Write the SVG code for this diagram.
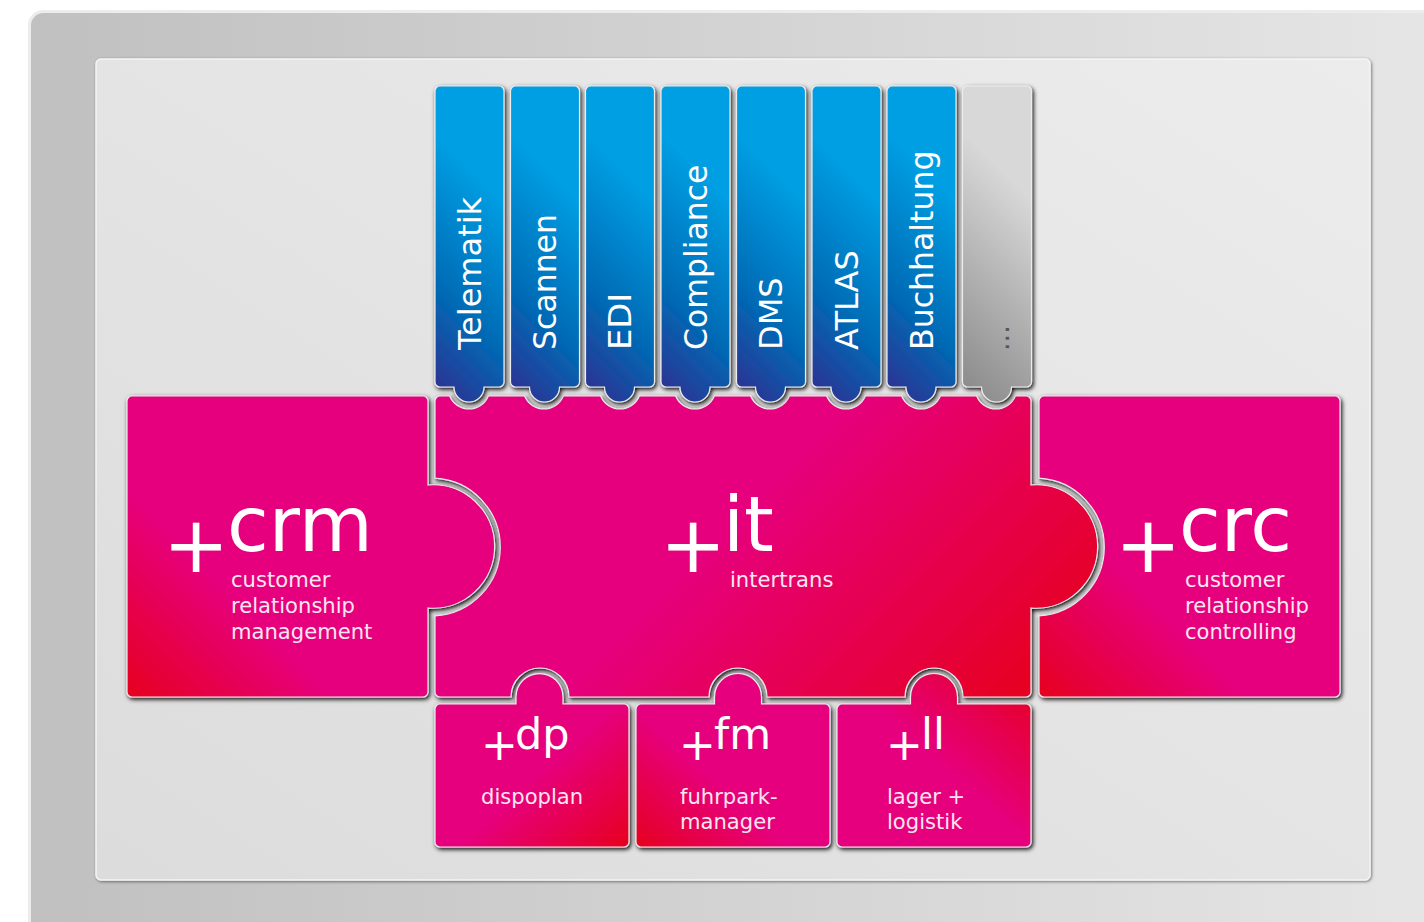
<svg xmlns="http://www.w3.org/2000/svg" width="1424" height="922" viewBox="0 0 1424 922">
<style>
text{font-family:"DejaVu Sans",Verdana,sans-serif;fill:#fff}
.piece{stroke:#ececec;stroke-width:1.2;filter:url(#sh)}
.big{font-size:76px}.plus{font-size:79px}
.mid{font-size:43px}.plus2{font-size:44px}
.sub{font-size:21.100px;fill:#fbe6f0}
.tabt{font-size:32px}
</style>
<defs>
<linearGradient id="outer" x1="0" y1="0" x2="1" y2="0"><stop offset="0" stop-color="#c0c0c0"/><stop offset="1" stop-color="#e6e6e6"/></linearGradient>
<linearGradient id="panel" x1="0" y1="1" x2="1" y2="0"><stop offset="0" stop-color="#dcdcdc"/><stop offset="1" stop-color="#ececec"/></linearGradient>
<linearGradient id="pinkIt" gradientUnits="userSpaceOnUse" x1="1031" y1="697" x2="730" y2="396"><stop offset="0" stop-color="#e6001f"/><stop offset=".8" stop-color="#e6007e"/></linearGradient>
<linearGradient id="pinkTL" x1="0" y1="0" x2="1" y2="1"><stop offset="0" stop-color="#e6007e"/><stop offset=".55" stop-color="#e6007e"/><stop offset="1" stop-color="#e6001f"/></linearGradient>
<linearGradient id="pinkBL" x1="0" y1="1" x2="1" y2="0"><stop offset="0" stop-color="#e6001f"/><stop offset=".4" stop-color="#e6007e"/></linearGradient>
<linearGradient id="pinkCrm" gradientUnits="userSpaceOnUse" x1="127" y1="697" x2="277" y2="547"><stop offset="0" stop-color="#e6001f"/><stop offset=".7" stop-color="#e6007e"/></linearGradient>
<linearGradient id="pinkCrc" gradientUnits="userSpaceOnUse" x1="1039" y1="697" x2="1189" y2="547"><stop offset="0" stop-color="#e6001f"/><stop offset=".7" stop-color="#e6007e"/></linearGradient>
<linearGradient id="pinkTR" x1="1" y1="0" x2="0" y2="1"><stop offset="0" stop-color="#e6001f"/><stop offset=".5" stop-color="#e6007e"/></linearGradient>
<linearGradient id="blue" gradientUnits="userSpaceOnUse" x1="0" y1="305" x2="130" y2="175"><stop offset="0" stop-color="#2e3192"/><stop offset=".4" stop-color="#0069b4"/><stop offset="1" stop-color="#009fe3"/></linearGradient>
<linearGradient id="grey" gradientUnits="userSpaceOnUse" x1="0" y1="305" x2="130" y2="175"><stop offset="0" stop-color="#8a8a8a"/><stop offset="1" stop-color="#d8d8d8"/></linearGradient>
<filter id="sh" x="-10%" y="-10%" width="120%" height="120%"><feDropShadow dx="1.500" dy="2" stdDeviation="2.200" flood-color="#000" flood-opacity=".95"/></filter>
<filter id="sh2" x="-5%" y="-5%" width="110%" height="110%"><feDropShadow dx="1" dy="1" stdDeviation="1.500" flood-color="#000" flood-opacity=".5"/></filter>
<path id="tab" d="M5 0H64a5 5 0 0 1 5 5V296a5 5 0 0 1-5 5H49A15 15 0 1 1 19 301H5a5 5 0 0 1-5-5V5a5 5 0 0 1 5-5z"/>
</defs>
<g id="background">
<rect x="29.500" y="11.500" width="1420" height="930" rx="14" fill="url(#outer)" stroke="#ececec" stroke-width="3"/>
<rect x="96" y="59" width="1274" height="821" rx="5" fill="url(#panel)" stroke="#f5f5f5" stroke-width="1.500" filter="url(#sh2)"/>
</g>
<g id="node-crc">
<path class="piece" fill="url(#pinkCrc)" d="M1044 396H1335a5 5 0 0 1 5 5V692a5 5 0 0 1-5 5H1044a5 5 0 0 1-5-5V615.900A69 69 0 0 0 1039 478.100V401a5 5 0 0 1 5-5z"/>
<text class="plus" x="1115" y="572">+</text><text class="big" x="1179" y="551">crc</text>
<text class="sub" x="1185" y="587">customer</text><text class="sub" x="1185" y="613">relationship</text><text class="sub" x="1185" y="639">controlling</text>
</g>
<g id="node-it">
<path class="piece" fill="url(#pinkIt)" d="M440 396H449.600A21 21 0 0 0 488.400 396H524.600A21 21 0 0 0 563.400 396H600.600A21 21 0 0 0 639.400 396H675.600A21 21 0 0 0 714.400 396H750.600A21 21 0 0 0 789.400 396H826.600A21 21 0 0 0 865.400 396H901.600A21 21 0 0 0 940.400 396H976.600A21 21 0 0 0 1015.400 396H1026a5 5 0 0 1 5 5V485A61.700 61.700 0 1 1 1031 608V692a5 5 0 0 1-5 5H963A29 29 0 0 0 905 697H767A29 29 0 0 0 709 697H569A29 29 0 0 0 511 697H440a5 5 0 0 1-5-5V615.900A69 69 0 0 0 435 478.100V401a5 5 0 0 1 5-5z"/>
<text class="plus" x="660" y="572">+</text><text class="big" x="723" y="551">it</text>
<text class="sub" x="730" y="587">intertrans</text>
</g>
<g id="node-crm">
<path class="piece" fill="url(#pinkCrm)" d="M132 396H423a5 5 0 0 1 5 5V485A61.700 61.700 0 1 1 428 608V692a5 5 0 0 1-5 5H132a5 5 0 0 1-5-5V401a5 5 0 0 1 5-5z"/>
<text class="plus" x="163" y="572">+</text><text class="big" x="227" y="551">crm</text>
<text class="sub" x="231" y="587">customer</text><text class="sub" x="231" y="613">relationship</text><text class="sub" x="231" y="639">management</text>
</g>
<g id="node-dp">
<path class="piece" fill="url(#pinkTL)" d="M440 704H516V697A23.500 23.500 0 0 1 563 697V704H624a5 5 0 0 1 5 5V842a5 5 0 0 1-5 5H440a5 5 0 0 1-5-5V709a5 5 0 0 1 5-5z"/>
<text class="plus2" x="481" y="760">+</text><text class="mid" x="515" y="749">dp</text>
<text class="sub" x="481" y="804">dispoplan</text>
</g>
<g id="node-fm">
<path class="piece" fill="url(#pinkBL)" d="M641 704H714.500V697A23.500 23.500 0 0 1 761.500 697V704H825a5 5 0 0 1 5 5V842a5 5 0 0 1-5 5H641a5 5 0 0 1-5-5V709a5 5 0 0 1 5-5z"/>
<text class="plus2" x="679" y="760">+</text><text class="mid" x="714" y="749">fm</text>
<text class="sub" x="680" y="804">fuhrpark-</text><text class="sub" x="680" y="829">manager</text>
</g>
<g id="node-ll">
<path class="piece" fill="url(#pinkTR)" d="M842 704H910.500V697A23.500 23.500 0 0 1 957.500 697V704H1026a5 5 0 0 1 5 5V842a5 5 0 0 1-5 5H842a5 5 0 0 1-5-5V709a5 5 0 0 1 5-5z"/>
<text class="plus2" x="886" y="760">+</text><text class="mid" x="921" y="749">ll</text>
<text class="sub" x="887" y="804">lager +</text><text class="sub" x="887" y="829">logistik</text>
</g>
<g id="node-telematik" transform="translate(435 86)"><use href="#tab" class="piece" fill="url(#blue)"/><text class="tabt" transform="translate(46 264) rotate(-90)">Telematik</text></g>
<g id="node-scannen" transform="translate(510.500 86)"><use href="#tab" class="piece" fill="url(#blue)"/><text class="tabt" transform="translate(45.500 264) rotate(-90)" textLength="136" lengthAdjust="spacingAndGlyphs">Scannen</text></g>
<g id="node-edi" transform="translate(585.500 86)"><use href="#tab" class="piece" fill="url(#blue)"/><text class="tabt" transform="translate(45.500 264) rotate(-90)" textLength="57.300" lengthAdjust="spacingAndGlyphs">EDI</text></g>
<g id="node-compliance" transform="translate(661 86)"><use href="#tab" class="piece" fill="url(#blue)"/><text class="tabt" transform="translate(46 264) rotate(-90)" textLength="185.400" lengthAdjust="spacingAndGlyphs">Compliance</text></g>
<g id="node-dms" transform="translate(736.500 86)"><use href="#tab" class="piece" fill="url(#blue)"/><text class="tabt" transform="translate(45.500 264) rotate(-90)">DMS</text></g>
<g id="node-atlas" transform="translate(812 86)"><use href="#tab" class="piece" fill="url(#blue)"/><text class="tabt" transform="translate(46 264) rotate(-90)">ATLAS</text></g>
<g id="node-buchhaltung" transform="translate(887 86)"><use href="#tab" class="piece" fill="url(#blue)"/><text class="tabt" transform="translate(46 264) rotate(-90)" textLength="199.400" lengthAdjust="spacingAndGlyphs">Buchhaltung</text></g>
<g id="node-more" transform="translate(962.500 86)"><use href="#tab" class="piece" fill="url(#grey)"/><text transform="translate(46 265) rotate(-90)" style="font-size:27px;fill:#555">...</text></g>
</svg>
